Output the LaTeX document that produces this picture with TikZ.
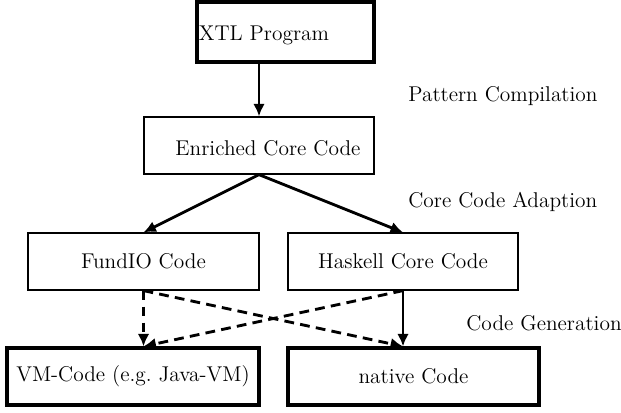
\documentclass[tikz,border=0pt]{standalone}
\usetikzlibrary{arrows.meta}
\def\u{0.5618pt}
\tikzset{
  thinbox/.style={draw, line width=0.7pt, inner sep=0pt, minimum height=57*\u},
  thickbox/.style={draw, line width=1.8pt, inner sep=0pt, minimum height=57*\u},
  lbl/.style={inner sep=0pt, font=\large},
  conn/.style={line width=1.6pt, -{Latex[length=7pt,width=6.5pt]}},
  dconn/.style={conn, dash pattern=on 5.5pt off 3.5pt},
}
\begin{document}
\begin{tikzpicture}[x=\u, y=-\u]
\useasboundingbox (0,0) rectangle (621,412);
\node[thickbox, minimum width=177*\u, minimum height=60*\u] (xtl) at (285.5,32) {};
\node[lbl, anchor=base] (xtlt) at (264,40) {XTL Program};
\node[thinbox, minimum width=230*\u] (enr) at (259,145.5) {};
\node[lbl, anchor=base] (enrt) at (268,155) {Enriched Core Code};
\node[thinbox, minimum width=231*\u] (fio) at (143.5,261.5) {\large FundIO Code};
\node[thinbox, minimum width=230*\u] (hs) at (403,261.5) {\large Haskell Core Code};
\node[thickbox, minimum width=252*\u] (vm) at (133,376.5) {\large VM-Code (e.g.\ Java-VM)};
\node[thickbox, minimum width=251*\u] (nat) at (413.5,376.5) {\large native Code};
\node[lbl, anchor=base west] (l1) at (408,101) {Pattern Compilation};
\node[lbl, anchor=base west] (l2) at (408,207) {Core Code Adaption};
\node[lbl, anchor=base west] (l3) at (466,330) {Code Generation};
\draw[conn] (enr.north |- xtl.south) -- (enr.north);
\draw[conn] (enr.south) -- (fio.north);
\draw[conn] (enr.south) -- (hs.north);
\draw[dconn] (fio.south) -- (fio.south |- vm.north);
\draw[dconn] (fio.south) -- (hs.south |- nat.north);
\draw[dconn] (hs.south) -- (fio.south |- vm.north);
\draw[conn] (hs.south) -- (hs.south |- nat.north);
\end{tikzpicture}
\end{document}
